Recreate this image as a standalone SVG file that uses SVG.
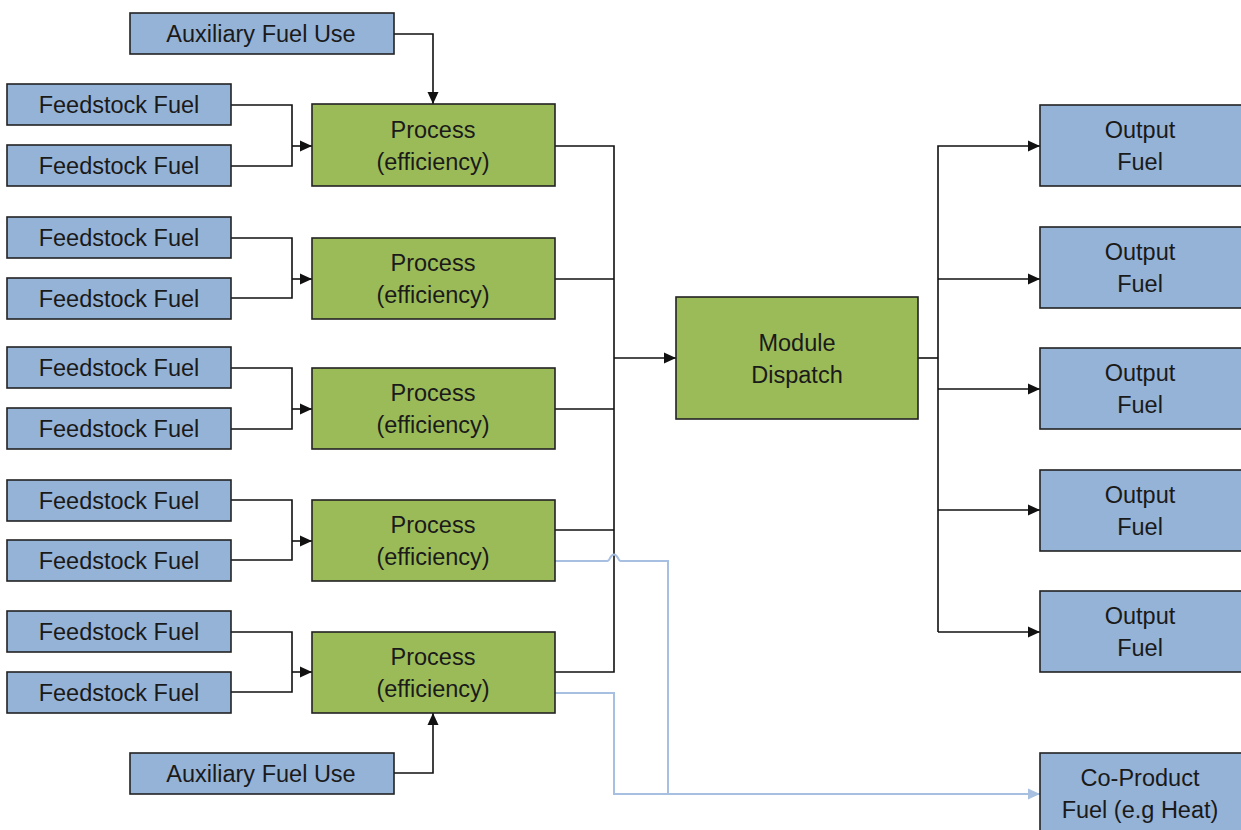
<svg xmlns="http://www.w3.org/2000/svg" width="1241" height="830" viewBox="0 0 1241 830">
  <defs>
    <style>
      .blue { fill: #95b3d7; stroke: #222; stroke-width: 1.6; }
      .green { fill: #9bbb59; stroke: #222; stroke-width: 1.6; }
      text { font-family: "Liberation Sans", Arial, sans-serif; font-size: 23.5px; fill: #1a1a1a; text-anchor: middle; }
      .wire { fill: none; stroke: #111; stroke-width: 1.6; }
      .co { fill: none; stroke: #a7bfe0; stroke-width: 2; }
    </style>
    <marker id="arr" viewBox="0 0 12 12" refX="12" refY="6" markerWidth="12" markerHeight="12" markerUnits="userSpaceOnUse" orient="auto">
      <path d="M0,0.5 L12,6 L0,11.5 z" fill="#111"/>
    </marker>
    <marker id="arrBlue" viewBox="0 0 12 12" refX="12" refY="6" markerWidth="12" markerHeight="12" markerUnits="userSpaceOnUse" orient="auto">
      <path d="M0,0.5 L12,6 L0,11.5 z" fill="#a7bfe0"/>
    </marker>
  </defs>
  <rect width="1241" height="830" fill="#ffffff"/>

  <!-- connectors -->
  <g id="connectors">
    <!-- auxiliary fuel into first and last process -->
    <path class="wire" d="M394,34 H433 V104" marker-end="url(#arr)"/>
    <path class="wire" d="M394,773 H433 V713" marker-end="url(#arr)"/>
    <!-- feedstock pairs into processes -->
    <path class="wire" d="M231,105 H292 V166 H231"/>
    <path class="wire" d="M292,146 H312" marker-end="url(#arr)"/>
    <path class="wire" d="M231,238 H292 V298 H231"/>
    <path class="wire" d="M292,279 H312" marker-end="url(#arr)"/>
    <path class="wire" d="M231,368 H292 V429 H231"/>
    <path class="wire" d="M292,409 H312" marker-end="url(#arr)"/>
    <path class="wire" d="M231,500 H292 V560 H231"/>
    <path class="wire" d="M292,541 H312" marker-end="url(#arr)"/>
    <path class="wire" d="M231,632 H292 V692 H231"/>
    <path class="wire" d="M292,672 H312" marker-end="url(#arr)"/>
    <!-- process outputs collected on a bus -->
    <path class="wire" d="M555,146 H614 V672 H555"/>
    <path class="wire" d="M555,279 H614"/>
    <path class="wire" d="M555,409 H614"/>
    <path class="wire" d="M555,530 H614"/>
    <path class="wire" d="M614,358 H676" marker-end="url(#arr)"/>
    <!-- dispatch to outputs -->
    <path class="wire" d="M918,358 H938"/>
    <path class="wire" d="M938,632 V146 H1040" marker-end="url(#arr)"/>
    <path class="wire" d="M938,279 H1040" marker-end="url(#arr)"/>
    <path class="wire" d="M938,389 H1040" marker-end="url(#arr)"/>
    <path class="wire" d="M938,510 H1040" marker-end="url(#arr)"/>
    <path class="wire" d="M938,632 H1040" marker-end="url(#arr)"/>
    <!-- co-product lines, the upper one hops over the bus -->
    <path class="co" d="M555,561 H607 Q609,561 610,558 Q614,551 618,558 Q619,561 621,561 H668 V794"/>
    <path class="co" d="M555,693 H614 V794 H1040" marker-end="url(#arrBlue)"/>
  </g>

  <g id="aux-top"><rect class="blue" x="130" y="13" width="264" height="41"/><text x="261" y="42">Auxiliary Fuel Use</text></g>
  <g id="aux-bottom"><rect class="blue" x="130" y="753" width="264" height="41"/><text x="261" y="782">Auxiliary Fuel Use</text></g>

  <g id="feed-1a"><rect class="blue" x="7" y="84" width="224" height="41"/><text x="119" y="113">Feedstock Fuel</text></g>
  <g id="feed-1b"><rect class="blue" x="7" y="145" width="224" height="41"/><text x="119" y="174">Feedstock Fuel</text></g>
  <g id="feed-2a"><rect class="blue" x="7" y="217" width="224" height="41"/><text x="119" y="246">Feedstock Fuel</text></g>
  <g id="feed-2b"><rect class="blue" x="7" y="278" width="224" height="41"/><text x="119" y="307">Feedstock Fuel</text></g>
  <g id="feed-3a"><rect class="blue" x="7" y="347" width="224" height="41"/><text x="119" y="376">Feedstock Fuel</text></g>
  <g id="feed-3b"><rect class="blue" x="7" y="408" width="224" height="41"/><text x="119" y="437">Feedstock Fuel</text></g>
  <g id="feed-4a"><rect class="blue" x="7" y="480" width="224" height="41"/><text x="119" y="509">Feedstock Fuel</text></g>
  <g id="feed-4b"><rect class="blue" x="7" y="540" width="224" height="41"/><text x="119" y="569">Feedstock Fuel</text></g>
  <g id="feed-5a"><rect class="blue" x="7" y="611" width="224" height="41"/><text x="119" y="640">Feedstock Fuel</text></g>
  <g id="feed-5b"><rect class="blue" x="7" y="672" width="224" height="41"/><text x="119" y="701">Feedstock Fuel</text></g>

  <g id="process-1"><rect class="green" x="312" y="104" width="243" height="82"/><text x="433" y="138">Process</text><text x="433" y="170">(efficiency)</text></g>
  <g id="process-2"><rect class="green" x="312" y="238" width="243" height="81"/><text x="433" y="271">Process</text><text x="433" y="303">(efficiency)</text></g>
  <g id="process-3"><rect class="green" x="312" y="368" width="243" height="81"/><text x="433" y="401">Process</text><text x="433" y="433">(efficiency)</text></g>
  <g id="process-4"><rect class="green" x="312" y="500" width="243" height="81"/><text x="433" y="533">Process</text><text x="433" y="565">(efficiency)</text></g>
  <g id="process-5"><rect class="green" x="312" y="632" width="243" height="81"/><text x="433" y="665">Process</text><text x="433" y="697">(efficiency)</text></g>

  <g id="module-dispatch"><rect class="green" x="676" y="297" width="242" height="122"/><text x="797" y="351">Module</text><text x="797" y="383">Dispatch</text></g>

  <g id="output-1"><rect class="blue" x="1040" y="105" width="202" height="81"/><text x="1140" y="138">Output</text><text x="1140" y="170">Fuel</text></g>
  <g id="output-2"><rect class="blue" x="1040" y="227" width="202" height="81"/><text x="1140" y="260">Output</text><text x="1140" y="292">Fuel</text></g>
  <g id="output-3"><rect class="blue" x="1040" y="348" width="202" height="81"/><text x="1140" y="381">Output</text><text x="1140" y="413">Fuel</text></g>
  <g id="output-4"><rect class="blue" x="1040" y="470" width="202" height="81"/><text x="1140" y="503">Output</text><text x="1140" y="535">Fuel</text></g>
  <g id="output-5"><rect class="blue" x="1040" y="591" width="202" height="81"/><text x="1140" y="624">Output</text><text x="1140" y="656">Fuel</text></g>

  <g id="co-product"><rect class="blue" x="1040" y="753" width="202" height="82"/><text x="1140" y="786">Co-Product</text><text x="1140" y="818">Fuel (e.g Heat)</text></g>
</svg>
